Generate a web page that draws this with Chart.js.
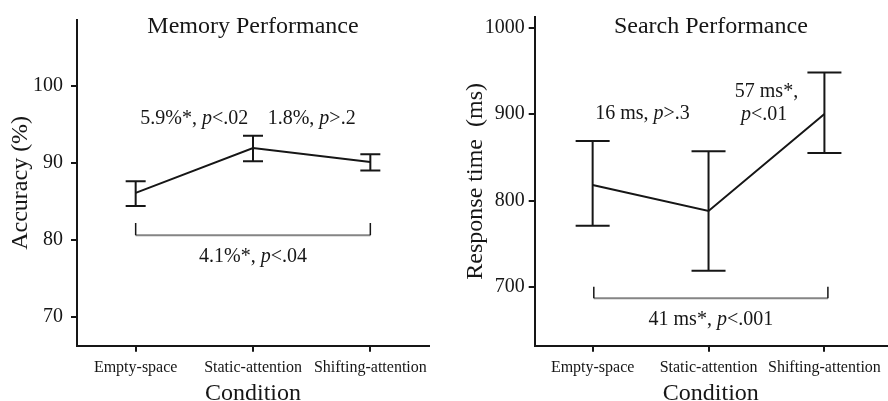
<!DOCTYPE html>
<html lang="en">
<head>
<meta charset="UTF-8">
<title>Memory and Search Performance</title>
<script src="https://cdn.jsdelivr.net/npm/chart.js"></script>
<style>
    body { margin: 0; background: #fff; }
    .wrap { position: relative; width: 888px; height: 401px; }
    canvas { position: absolute; top: 0; }
    #memChart { left: 0; }
    #searchChart { left: 444px; }
</style>
</head>
<body>
<div class="wrap">
    <canvas id="memChart" width="444" height="401"></canvas>
    <canvas id="searchChart" width="444" height="401"></canvas>
</div>
<script>
    const conditions = ['Empty-space', 'Static-attention', 'Shifting-attention'];

    // memory accuracy (%): mean and error bar ends
    const memMean = [86.1, 91.9, 90.1];
    const memLow = [84.4, 90.2, 89.0];
    const memHigh = [87.6, 93.5, 91.1];
    const memTicks = [70, 80, 90, 100];

    // search response time (ms)
    const rtMean = [818, 788, 900];
    const rtLow = [771, 719, 855];
    const rtHigh = [869, 857, 948];
    const rtTicks = [700, 800, 900, 1000];

    const serif = '"Liberation Serif", "Times New Roman", serif';
    const ink = '#161616';

    // text with an italic "p" in it
    function drawNote(ctx, cx, baseY, parts) {
        let total = 0;
        parts.forEach(p => {
            ctx.font = (p[1] ? 'italic ' : '') + '20px ' + serif;
            total += ctx.measureText(p[0]).width;
        });
        let x = cx - total / 2;
        ctx.textAlign = 'left';
        parts.forEach(p => {
            ctx.font = (p[1] ? 'italic ' : '') + '20px ' + serif;
            ctx.fillText(p[0], x, baseY);
            x += ctx.measureText(p[0]).width;
        });
    }

    function buildChart(id, opt) {
        const extras = {
            id: 'extras',
            afterDatasetsDraw(chart) {
                const { ctx, chartArea } = chart;
                const x = chart.scales.x, y = chart.scales.y;
                ctx.save();
                // error bars
                ctx.strokeStyle = ink;
                ctx.lineWidth = 2;
                opt.mean.forEach((m, i) => {
                    const px = x.getPixelForValue(i);
                    const top = y.getPixelForValue(opt.high[i]);
                    const bot = y.getPixelForValue(opt.low[i]);
                    ctx.beginPath();
                    ctx.moveTo(px, top); ctx.lineTo(px, bot);
                    ctx.moveTo(px - opt.cap, top); ctx.lineTo(px + opt.cap, top);
                    ctx.moveTo(px - opt.cap, bot); ctx.lineTo(px + opt.cap, bot);
                    ctx.stroke();
                });
                // comparison bracket: dark ends, grey span
                const b = opt.bracket;
                const bx0 = x.getPixelForValue(b.x[0]), bx1 = x.getPixelForValue(b.x[1]);
                const by0 = y.getPixelForValue(b.top), by1 = y.getPixelForValue(b.bottom);
                ctx.strokeStyle = '#858585';
                ctx.lineWidth = 2;
                ctx.beginPath();
                ctx.moveTo(bx0, by1); ctx.lineTo(bx1, by1);
                ctx.stroke();
                ctx.strokeStyle = ink;
                ctx.lineWidth = 1.5;
                ctx.beginPath();
                ctx.moveTo(bx0, by0); ctx.lineTo(bx0, by1);
                ctx.moveTo(bx1, by0); ctx.lineTo(bx1, by1);
                ctx.stroke();
                // notes
                ctx.fillStyle = ink;
                ctx.textBaseline = 'alphabetic';
                opt.notes.forEach(n => drawNote(ctx, x.getPixelForValue(n.x), y.getPixelForValue(n.y), n.parts));
                // panel title
                ctx.font = '24px ' + serif;
                ctx.textAlign = 'center';
                ctx.fillText(opt.title, (chartArea.left + chartArea.right) / 2, 33);
                ctx.restore();
            }
        };

        const axisFont = { family: serif, size: 24, lineHeight: 1 };

        return new Chart(document.getElementById(id), {
            type: 'line',
            data: {
                datasets: [{
                    data: opt.mean.map((v, i) => ({ x: i, y: v })),
                    borderColor: ink,
                    borderWidth: 2,
                    pointRadius: 0,
                    tension: 0
                }]
            },
            options: {
                responsive: false,
                animation: false,
                layout: { padding: { left: 0, right: opt.padRight, top: 17, bottom: 0 } },
                plugins: { legend: { display: false }, tooltip: { enabled: false } },
                scales: {
                    x: {
                        type: 'linear',
                        min: opt.xMin,
                        max: opt.xMax,
                        afterBuildTicks: s => { s.ticks = conditions.map((c, i) => ({ value: i })); },
                        afterFit: s => { s.height = 55.3; },
                        ticks: {
                            callback: (v, i) => conditions[i],
                            font: { family: serif, size: 16 },
                            color: ink,
                            padding: 6,
                            maxRotation: 0,
                            autoSkip: false
                        },
                        grid: { drawOnChartArea: false, tickLength: 6, lineWidth: 2, color: ink },
                        border: { color: ink, width: 2 },
                        title: { display: true, text: 'Condition', font: axisFont, color: ink, padding: { top: 0, bottom: -5 } }
                    },
                    y: {
                        min: opt.yMin,
                        max: opt.yMax,
                        afterBuildTicks: s => { s.ticks = opt.ticks.map(v => ({ value: v })); },
                        afterFit: s => { s.width = opt.yWidth; },
                        ticks: {
                            callback: v => String(v),
                            font: { family: serif, size: 20 },
                            color: ink,
                            padding: opt.yPad
                        },
                        grid: { drawOnChartArea: false, tickLength: 6, lineWidth: 2, color: ink },
                        border: { color: ink, width: 2 },
                        title: { display: true, text: opt.yTitle, font: axisFont, color: ink, padding: { top: opt.yTitlePad, bottom: 0 } }
                    }
                }
            },
            plugins: [extras]
        });
    }

    buildChart('memChart', {
        title: 'Memory Performance',
        yTitle: 'Accuracy (%)',
        mean: memMean, low: memLow, high: memHigh, ticks: memTicks,
        yMin: 66.3, yMax: 108.5, xMin: -0.5, xMax: 2.5,
        yWidth: 77, padRight: 15, yPad: 8, yTitlePad: 9, cap: 10,
        bracket: { x: [0, 2], top: 82.2, bottom: 80.6 },
        notes: [
            { x: 0.5, y: 95.0, parts: [['5.9%*, ', false], ['p', true], ['<.02', false]] },
            { x: 1.5, y: 95.0, parts: [['1.8%, ', false], ['p', true], ['>.2', false]] },
            { x: 1.0, y: 77.2, parts: [['4.1%*, ', false], ['p', true], ['<.04', false]] }
        ]
    });

    buildChart('searchChart', {
        title: 'Search Performance',
        yTitle: 'Response time  (ms)',
        mean: rtMean, low: rtLow, high: rtHigh, ticks: rtTicks,
        yMin: 632.3, yMax: 1012.2, xMin: -0.5, xMax: 2.54,
        yWidth: 90.7, padRight: 1, yPad: 4, yTitlePad: 20, cap: 17,
        bracket: { x: [0.01, 2.03], top: 700.5, bottom: 687.1 },
        notes: [
            { x: 0.43, y: 894, parts: [['16 ms, ', false], ['p', true], ['>.3', false]] },
            { x: 1.5, y: 920, parts: [['57 ms*,', false]] },
            { x: 1.48, y: 893, parts: [['p', true], ['<.01', false]] },
            { x: 1.02, y: 656.3, parts: [['41 ms*, ', false], ['p', true], ['<.001', false]] }
        ]
    });
</script>
</body>
</html>
